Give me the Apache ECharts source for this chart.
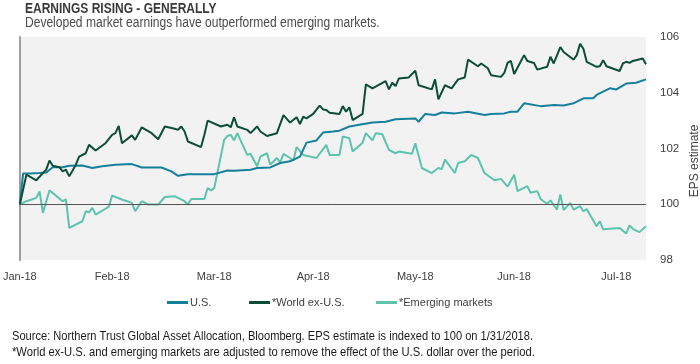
<!DOCTYPE html>
<html>
<head>
<meta charset="utf-8">
<script src="https://cdn.jsdelivr.net/npm/echarts@6/dist/echarts.min.js"></script>
<style>html,body{margin:0;padding:0;background:#fff;}#c{width:700px;height:364px;}</style>
</head>
<body>
<div id="c"></div>
<script>
// x values are days after 31-Jan-2018 (index date = 100)
const monthTickDays = [0, 28, 59, 89, 120, 150, 181];
const monthTickLabels = ['Jan-18', 'Feb-18', 'Mar-18', 'Apr-18', 'May-18', 'Jun-18', 'Jul-18'];
const yTicks = [98, 100, 102, 104, 106];

const usDay = [0,1,3,6,8,10,13,15,19,22,25,29,34,37,43,46,48,51,59,63,65,70,72,76,79,82,85,87,90,92,95,97,100,103,107,111,114,120,121,123,126,128,132,136,141,143,147,149,151,153,158,162,165,168,171,174,175,179,181,184,187,190];
const usVal = [100,101.10,101.10,101.12,101.14,101.33,101.33,101.38,101.39,101.30,101.36,101.42,101.44,101.32,101.32,101.18,101.02,101.08,101.08,101.21,101.20,101.24,101.30,101.32,101.48,101.54,101.71,102.21,102.29,102.57,102.61,102.64,102.79,102.85,102.93,102.96,103.05,103.08,102.96,103.24,103.20,103.29,103.26,103.32,103.20,103.24,103.26,103.32,103.32,103.62,103.52,103.56,103.54,103.62,103.80,103.80,103.92,104.16,104.12,104.33,104.36,104.48];

const worldDay = [0,2,5,8,9,10,12,13,14,15,17,18,20,21,23,26,28,29,30,31,34,35,37,40,42,44,47,48,49,50,51,55,56,57,61,63,64,65,66,69,70,72,73,75,78,80,82,84,85,86,87,89,91,92,93,94,97,98,99,100,101,104,105,107,111,112,113,114,115,118,120,121,125,126,127,129,131,133,135,136,139,140,142,143,146,147,148,149,150,153,154,156,157,160,161,162,164,165,168,169,170,171,172,175,176,177,178,182,183,184,185,186,189,190];
const worldVal = [100,101.06,100.86,101.24,101.57,101.38,101.33,101.18,101.24,101.0,101.42,101.71,101.83,102.13,101.93,102.19,102.49,102.55,102.81,102.19,102.47,102.31,102.76,102.55,102.33,102.79,102.71,102.67,102.79,102.61,102.25,102.05,102.49,103.0,102.79,102.85,102.76,103.12,102.79,102.67,102.55,102.79,102.61,102.45,102.55,103.2,102.93,103.12,102.88,103.14,103.08,103.24,103.54,103.4,103.38,103.28,103.24,103.52,103.32,103.48,103.02,103.24,104.3,104.16,104.42,104.12,104.36,104.24,104.51,104.55,104.79,104.27,104.12,104.48,103.76,104.27,104.16,104.48,104.55,105.19,104.95,105.05,104.88,104.63,104.57,104.71,105.07,105.14,104.67,105.35,105.14,105.07,104.83,104.93,105.29,105.05,105.64,105.46,105.19,105.35,105.76,105.58,105.11,104.93,104.95,105.17,104.95,104.78,105.05,105.11,105.07,105.14,105.23,105.02];

const emDay = [0,2,5,6,7,9,13,14,15,19,20,21,22,23,27,28,31,34,35,37,39,42,44,47,48,50,51,52,56,57,58,59,62,63,64,65,66,69,70,72,73,75,76,78,79,80,82,83,84,86,90,93,94,97,98,100,101,104,105,107,108,110,112,114,115,119,120,122,125,127,128,129,132,133,135,137,139,141,144,146,148,150,151,154,155,157,158,160,161,163,164,165,167,168,170,171,172,175,176,177,182,184,185,186,188,190];
const emVal = [100,100.11,100.23,100.46,99.69,100.50,100.11,100.17,99.15,99.39,99.75,99.71,99.87,99.63,99.91,100.31,100.17,100.05,99.75,100.11,99.99,99.99,100.26,100.29,100.23,100.11,99.99,100.19,100.19,100.58,100.50,100.58,102.31,102.45,102.49,102.29,102.55,101.77,101.81,101.36,101.71,101.83,101.42,101.66,101.50,101.81,101.66,101.57,102.05,101.77,101.66,102.13,101.77,101.77,102.43,102.37,101.89,102.21,102.55,102.29,102.55,102.51,101.95,101.83,101.89,101.81,102.19,101.30,101.12,101.30,101.26,101.60,101.12,101.48,101.54,101.77,101.66,101.12,100.86,100.91,100.63,101.06,100.47,100.65,100.41,100.47,100.19,100.02,100.14,99.81,100.35,99.79,100.05,99.81,99.93,99.75,99.83,99.21,99.39,99.10,99.15,98.95,99.24,99.12,99.00,99.21];

const seriesNames = ['U.S.', '*World ex-U.S.', '*Emerging markets'];
const seriesColors = ['#15809b', '#0c4d38', '#5cc3ad'];
const titleText = 'EARNINGS RISING - GENERALLY';
const subtitleText = 'Developed market earnings have outperformed emerging markets.';
const sourceText = 'Source: Northern Trust Global Asset Allocation, Bloomberg. EPS estimate is indexed to 100 on 1/31/2018.';
const noteText = '*World ex-U.S. and emerging markets are adjusted to remove the effect of the U.S. dollar over the period.';
const yAxisName = 'EPS estimate';

const zip = (xs, ys) => xs.map((x, i) => [x, ys[i]]);
const FONT = '"Liberation Sans", Arial, sans-serif';

function txt(text, x, y, size, weight, color, sx) {
  return {type: 'text', x: x, y: y, scaleX: sx, silent: true,
    style: {text: text, fontFamily: FONT, fontSize: size, fontWeight: weight, fill: color,
      align: 'left', verticalAlign: 'top'}};
}

const legendLefts = [167, 249, 376];
const legends = seriesNames.map((n, i) => ({
  data: [n], left: legendLefts[i], top: 297, icon: 'rect', itemWidth: 21, itemHeight: 3, padding: 0,
  textStyle: {fontFamily: FONT, fontSize: 11, color: '#404040', padding: [0, 0, 0, -3]}
}));

const chart = echarts.init(document.getElementById('c'), null, {renderer: 'canvas'});
chart.setOption({
  animation: false,
  backgroundColor: '#ffffff',
  legend: legends,
  grid: {left: 17, right: 54, top: 37, bottom: 104, show: true, backgroundColor: '#f2f2f2', borderWidth: 0},
  xAxis: {
    type: 'value', min: 0, max: 190,
    axisLine: {show: false}, axisTick: {show: false}, splitLine: {show: false},
    axisLabel: {
      customValues: monthTickDays,
      formatter: v => monthTickLabels[monthTickDays.indexOf(v)] || '',
      margin: 11, fontFamily: FONT, fontSize: 11, color: '#404040'
    }
  },
  yAxis: [
    {type: 'value', position: 'right', min: 98, max: 106, interval: 2,
     axisLine: {show: false}, axisTick: {show: false}, splitLine: {show: false},
     axisLabel: {margin: 14, fontFamily: FONT, fontSize: 11.5, color: '#404040',
       formatter: v => yTicks.includes(v) ? String(v) : ''}},
    {type: 'value', position: 'left', min: 98, max: 106, interval: 2,
     axisLine: {show: true, lineStyle: {color: '#a0a0a0', width: 2}},
     axisTick: {show: false}, axisLabel: {show: false}, splitLine: {show: false}}
  ],
  graphic: [
    txt(titleText, 25, 2, 14, 'bold', '#3a3a3a', 0.857),
    txt(subtitleText, 25, 16, 14, 'normal', '#4a4a4a', 0.86),
    txt(sourceText, 12, 330, 13, 'normal', '#1a1a1a', 0.854),
    txt(noteText, 12, 346, 13, 'normal', '#1a1a1a', 0.862),
    {type: 'text', x: 695, y: 161, rotation: Math.PI / 2, silent: true,
     style: {text: yAxisName, fontFamily: FONT, fontSize: 12, fill: '#404040',
       align: 'center', verticalAlign: 'middle'}}
  ],
  series: [
    {name: seriesNames[0], type: 'line', data: zip(usDay, usVal), showSymbol: false, z: 3,
     lineStyle: {color: seriesColors[0], width: 2}, itemStyle: {color: seriesColors[0]},
     markLine: {silent: true, symbol: 'none', label: {show: false},
       lineStyle: {color: '#555555', width: 1, type: 'solid'}, data: [{yAxis: 100}]}},
    {name: seriesNames[1], type: 'line', data: zip(worldDay, worldVal), showSymbol: false, z: 4,
     lineStyle: {color: seriesColors[1], width: 2}, itemStyle: {color: seriesColors[1]}},
    {name: seriesNames[2], type: 'line', data: zip(emDay, emVal), showSymbol: false, z: 2,
     lineStyle: {color: seriesColors[2], width: 2}, itemStyle: {color: seriesColors[2]}}
  ]
});
</script>
</body>
</html>
